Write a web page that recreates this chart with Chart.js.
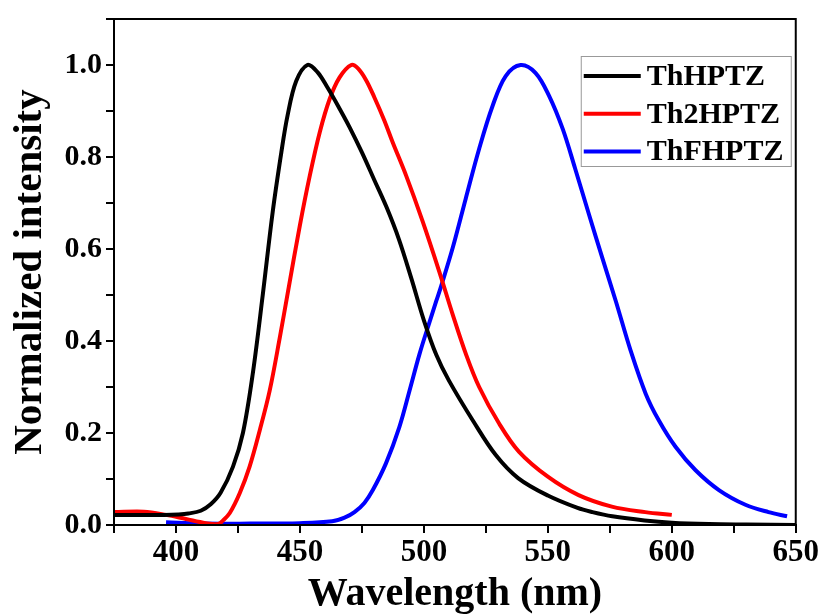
<!DOCTYPE html>
<html>
<head>
<meta charset="utf-8">
<script src="https://cdn.jsdelivr.net/npm/chart.js@4"></script>
<style>
  html, body { margin: 0; padding: 0; background: #fff; }
  #wrap { width: 823px; height: 615px; }
</style>
</head>
<body>
<div id="wrap"><canvas id="myChart"></canvas></div>
<script>
// Emission spectra
const wlThHPTZ = [375, 385, 395, 401, 405, 410, 414, 418, 423, 427, 431, 435, 439, 442.5, 445, 448.5, 453, 457, 461, 466, 470, 475, 480, 485, 490, 495, 500, 505, 510, 520, 529, 538, 550, 562, 568, 576, 589, 600, 615, 630, 650]
const intThHPTZ = [0.022, 0.022, 0.022, 0.023, 0.025, 0.031, 0.045, 0.07, 0.127, 0.2, 0.33, 0.5, 0.68, 0.81, 0.89, 0.965, 1.0, 0.985, 0.952, 0.905, 0.865, 0.81, 0.75, 0.69, 0.62, 0.535, 0.445, 0.37, 0.315, 0.225, 0.152, 0.102, 0.064, 0.037, 0.028, 0.019, 0.01, 0.005, 0.002, 0.001, 0.0]

const wlTh2HPTZ = [375, 387, 396, 404, 412, 417, 419, 421.7, 425.7, 429.7, 433.8, 437.8, 441.8, 445.2, 450, 454, 458, 462, 466, 470.7, 473.5, 476.7, 480, 484, 487.4, 492.8, 499.5, 506.2, 511.6, 517, 522.3, 530.4, 538.4, 550, 562.4, 575.8, 589.3, 600]
const intTh2HPTZ = [0.028, 0.029, 0.022, 0.013, 0.004, 0.002, 0.01, 0.026, 0.069, 0.127, 0.206, 0.292, 0.405, 0.508, 0.652, 0.76, 0.854, 0.926, 0.973, 1.0, 0.992, 0.967, 0.93, 0.88, 0.832, 0.76, 0.66, 0.551, 0.458, 0.371, 0.30, 0.22, 0.159, 0.105, 0.065, 0.04, 0.028, 0.022]

const wlThFHPTZ = [396, 410, 430, 450, 463, 468, 472, 476, 479.4, 484.7, 490.1, 494.2, 498.2, 502.2, 505, 507, 511.6, 516.9, 522.3, 527.7, 533, 539, 545, 550.5, 556, 561, 566.6, 572, 577.4, 583.4, 589.5, 594.8, 601.5, 609.6, 619, 629.7, 639, 646.5]
const intThFHPTZ = [0.006, 0.003, 0.003, 0.004, 0.008, 0.016, 0.028, 0.048, 0.076, 0.134, 0.213, 0.292, 0.371, 0.44, 0.487, 0.52, 0.602, 0.71, 0.818, 0.911, 0.976, 1.0, 0.983, 0.933, 0.861, 0.775, 0.675, 0.58, 0.487, 0.379, 0.285, 0.227, 0.17, 0.119, 0.076, 0.044, 0.028, 0.019]

const seriesNames = ['ThHPTZ', 'Th2HPTZ', 'ThFHPTZ']
const seriesColors = ['#000000', '#ff0000', '#0000ff']

const xTicks = [400, 450, 500, 550, 600, 650]
const yTicks = [0.0, 0.2, 0.4, 0.6, 0.8, 1.0]

const serif = "'Liberation Serif', 'Times New Roman', serif"

const toPoints = (xs, ys) => xs.map((x, i) => ({ x: x, y: ys[i] }))

const datasets = [
  toPoints(wlThHPTZ, intThHPTZ),
  toPoints(wlTh2HPTZ, intTh2HPTZ),
  toPoints(wlThFHPTZ, intThFHPTZ)
].map((pts, i) => ({
  label: seriesNames[i],
  data: pts,
  borderColor: seriesColors[i],
  backgroundColor: seriesColors[i],
  borderWidth: 4,
  pointRadius: 0,
  tension: 0.35,
  fill: false
}))

// box around the plot + legend in the top-right corner
const framePlugin = {
  id: 'frame',
  afterDraw (chart) {
    const { ctx, chartArea: a } = chart
    ctx.save()
    ctx.strokeStyle = '#000'
    ctx.lineWidth = 2
    ctx.strokeRect(a.left, a.top, a.right - a.left, a.bottom - a.top)

    const boxRight = a.right - 5
    const boxLeft = boxRight - 210
    const boxTop = a.top + 37
    const rowH = 37.8
    ctx.strokeStyle = '#999'
    ctx.lineWidth = 1
    ctx.strokeRect(boxLeft + 0.5, boxTop + 0.5, 210, 110)
    ctx.font = 'bold 30px ' + serif
    ctx.textBaseline = 'middle'
    ctx.fillStyle = '#000'
    chart.data.datasets.forEach((ds, i) => {
      const y = boxTop + 20 + i * rowH
      ctx.strokeStyle = ds.borderColor
      ctx.lineWidth = 4
      ctx.beginPath()
      ctx.moveTo(boxLeft + 3, y)
      ctx.lineTo(boxLeft + 60, y)
      ctx.stroke()
      ctx.fillText(ds.label, boxLeft + 66, y + 1)
    })
    ctx.restore()
  }
}

const ctx = document.getElementById('myChart')
// eslint-disable-next-line no-unused-vars
const myChart = new Chart(ctx, {
  type: 'line',
  data: { datasets },
  options: {
    responsive: true,
    maintainAspectRatio: false,
    animation: false,
    layout: { padding: { left: 0, right: 26, top: 15, bottom: 0 } },
    plugins: {
      legend: { display: false },
      tooltip: { enabled: false }
    },
    scales: {
      x: {
        type: 'linear',
        min: 375,
        max: 650,
        afterFit: (s) => { s.height = 90 },
        border: { display: true, color: '#000', width: 2 },
        grid: { display: true, drawOnChartArea: false, drawTicks: true, tickLength: 8, color: '#000', lineWidth: 2 },
        ticks: {
          stepSize: 25,
          autoSkip: false,
          maxRotation: 0,
          color: '#000',
          padding: 4,
          font: { family: serif, size: 31, weight: 'bold', lineHeight: 1 },
          callback: (v) => xTicks.includes(v) ? String(v) : ''
        },
        title: {
          display: true,
          text: 'Wavelength (nm)',
          color: '#000',
          padding: { top: 2, bottom: 0 },
          font: { family: serif, size: 40, weight: 'bold', lineHeight: 1 }
        }
      },
      y: {
        min: 0,
        max: 1.1,
        afterFit: (s) => { s.width = 114 },
        border: { display: true, color: '#000', width: 2 },
        grid: { display: true, drawOnChartArea: false, drawTicks: true, tickLength: 8, color: '#000', lineWidth: 2 },
        ticks: {
          stepSize: 0.1,
          autoSkip: false,
          color: '#000',
          padding: 4,
          font: { family: serif, size: 30, weight: 'bold', lineHeight: 1 },
          callback: (v) => {
            const r = Math.round(v * 10) / 10
            return yTicks.includes(r) ? r.toFixed(1) : ''
          }
        },
        title: {
          display: true,
          text: 'Normalized intensity',
          color: '#000',
          padding: { top: 10, bottom: 0 },
          font: { family: serif, size: 41, weight: 'bold', lineHeight: 1 }
        }
      }
    }
  },
  plugins: [framePlugin]
})
</script>
</body>
</html>
